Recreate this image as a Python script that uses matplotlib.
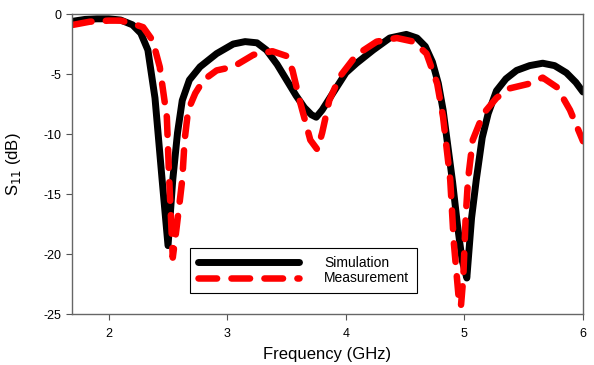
import numpy as np
import matplotlib.pyplot as plt

plt.rcParams['font.family'] = ['Liberation Sans', 'DejaVu Sans']
plt.rcParams['axes.unicode_minus'] = False

# simulation
sim_f = [1.70, 1.80, 1.90, 2.00, 2.10, 2.20, 2.27, 2.33, 2.39, 2.45, 2.50, 2.54, 2.58, 2.62,
         2.68, 2.77, 2.91, 3.05, 3.15, 3.25, 3.33, 3.42, 3.50, 3.58, 3.65, 3.71, 3.75, 3.80,
         3.89, 4.00, 4.09, 4.23, 4.37, 4.51, 4.60, 4.67, 4.73, 4.78, 4.82, 4.86, 4.90, 4.94,
         4.98, 5.02, 5.06, 5.10, 5.15, 5.20, 5.27, 5.35, 5.44, 5.55, 5.66, 5.76, 5.86, 5.94, 6.00]
sim_s = [-0.6, -0.45, -0.4, -0.4, -0.5, -0.9, -1.6, -3.0, -7.0, -13.8, -19.3, -13.8, -9.9, -7.2,
         -5.5, -4.4, -3.3, -2.5, -2.3, -2.4, -3.0, -4.2, -5.5, -6.8, -7.8, -8.4, -8.6, -8.0,
         -6.6, -4.9, -4.1, -3.0, -2.0, -1.7, -2.0, -2.7, -4.0, -5.8, -8.0, -11.0, -14.0, -17.5,
         -20.5, -22.0, -17.0, -13.8, -10.3, -8.3, -6.4, -5.4, -4.7, -4.3, -4.1, -4.3, -4.9, -5.7, -6.5]

# measurement
meas_f = [1.70, 1.84, 2.00, 2.10, 2.20, 2.29, 2.37, 2.43, 2.49, 2.51, 2.54, 2.57, 2.60, 2.62,
          2.64, 2.67, 2.73, 2.80, 2.91, 3.05, 3.22, 3.38, 3.50, 3.55, 3.61, 3.70, 3.76, 3.80,
          3.86, 3.95, 4.09, 4.26, 4.43, 4.57, 4.68, 4.77, 4.82, 4.88, 4.91, 4.95, 4.97, 4.99,
          5.01, 5.03, 5.07, 5.16, 5.27, 5.38, 5.55, 5.66, 5.78, 5.89, 6.00]
meas_s = [-0.9, -0.64, -0.55, -0.55, -0.8, -1.1, -2.2, -4.4, -8.6, -13.8, -20.3, -18.0, -15.5, -13.8,
          -10.5, -8.0, -6.6, -5.5, -4.7, -4.4, -3.4, -3.1, -3.5, -4.7, -7.2, -10.5, -11.3, -9.9,
          -7.2, -5.2, -3.4, -2.3, -2.0, -2.3, -3.3, -5.8, -8.6, -13.8, -19.0, -23.5, -24.4, -22.0,
          -17.0, -13.8, -10.5, -8.3, -7.0, -6.2, -5.8, -5.3, -6.1, -8.0, -10.6]

fig = plt.figure(figsize=(5.94, 3.65), dpi=100)
ax = fig.add_axes([0.1212, 0.1397, 0.8603, 0.8219])

ax.plot(sim_f, sim_s, color='black', lw=5.0, solid_capstyle='round', solid_joinstyle='round',
        label='Simulation')
ax.plot(meas_f, meas_s, color='#ff0000', lw=4.7, dashes=(2.85, 2.2), dash_capstyle='round',
        label='Measurement')

ax.set_xlim(1.69, 6)
ax.set_ylim(-25, 0)
ax.set_xticks([2, 3, 4, 5, 6])
ax.set_yticks([0, -5, -10, -15, -20, -25])
ax.tick_params(direction='out', length=4, width=0.8, color='#555555', labelsize=9)
ax.tick_params(axis='x', pad=6)
ax.tick_params(axis='y', pad=3.5)
for s in ax.spines.values():
    s.set_color('#666666')
    s.set_linewidth(1.0)

ax.set_xlabel('Frequency (GHz)', fontsize=12, labelpad=5)
ax.set_ylabel('S$_{11}$ (dB)', fontsize=12)
ax.yaxis.set_label_coords(-0.095, 0.5)

leg = ax.legend(loc='lower left', bbox_to_anchor=(0.231, 0.07), fontsize=10, handlelength=7.3,
                fancybox=False, edgecolor='black', framealpha=1, borderpad=0.55,
                labelspacing=0.1, handletextpad=1.8, borderaxespad=0)
leg.get_frame().set_linewidth(0.8)

fig.savefig('out.png', dpi=100)
